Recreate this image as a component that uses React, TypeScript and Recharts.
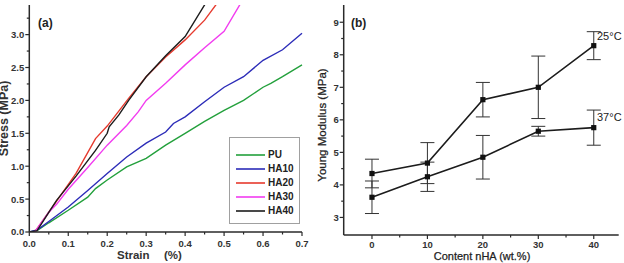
import React from "react";
import {
  LineChart,
  Line,
  XAxis,
  YAxis,
  Legend,
  ErrorBar,
} from "recharts";

// ---- panel (a): stress-strain curves ----
const puPts = [[0, 0], [0.02, 0.02], [0.05, 0.14], [0.1, 0.33], [0.15, 0.53], [0.17, 0.66], [0.2, 0.79], [0.25, 0.99], [0.3, 1.12], [0.35, 1.32], [0.4, 1.5], [0.45, 1.68], [0.5, 1.85], [0.55, 2.0], [0.6, 2.2], [0.62, 2.26], [0.65, 2.36], [0.7, 2.54]];
const ha10Pts = [[0, 0], [0.02, 0.03], [0.05, 0.16], [0.1, 0.38], [0.15, 0.63], [0.2, 0.89], [0.25, 1.14], [0.3, 1.35], [0.35, 1.52], [0.37, 1.65], [0.4, 1.75], [0.45, 1.98], [0.5, 2.2], [0.55, 2.36], [0.6, 2.61], [0.65, 2.77], [0.7, 3.02]];
const ha20Pts = [[0, 0], [0.015, 0.01], [0.05, 0.3], [0.07, 0.47], [0.12, 0.89], [0.17, 1.42], [0.2, 1.61], [0.255, 2.03], [0.3, 2.36], [0.35, 2.66], [0.4, 2.92], [0.45, 3.22], [0.485, 3.5]];
const ha30Pts = [[0, 0], [0.015, 0.01], [0.05, 0.3], [0.07, 0.42], [0.1, 0.65], [0.15, 0.98], [0.2, 1.32], [0.25, 1.62], [0.28, 1.83], [0.3, 2.0], [0.35, 2.26], [0.4, 2.54], [0.45, 2.8], [0.5, 3.05], [0.545, 3.5]];
const ha40Pts = [[0, 0], [0.02, 0.02], [0.05, 0.3], [0.07, 0.48], [0.12, 0.85], [0.17, 1.24], [0.2, 1.5], [0.205, 1.6], [0.23, 1.78], [0.255, 2.0], [0.3, 2.36], [0.35, 2.68], [0.4, 2.97], [0.455, 3.5]];

const strainSeries = [
  { name: "PU", color: "#23a03c", pts: puPts },
  { name: "HA10", color: "#2c2cb8", pts: ha10Pts },
  { name: "HA20", color: "#e63a2e", pts: ha20Pts },
  { name: "HA30", color: "#f23cf0", pts: ha30Pts },
  { name: "HA40", color: "#1c1c1c", pts: ha40Pts },
];

const strainMajor = [0, 0.1, 0.2, 0.3, 0.4, 0.5, 0.6, 0.7];
const strainTicks = [0, 0.05, 0.1, 0.15, 0.2, 0.25, 0.3, 0.35, 0.4, 0.45, 0.5, 0.55, 0.6, 0.65, 0.7];
const stressMajor = [0, 0.5, 1, 1.5, 2, 2.5, 3];
const stressTicks = [0, 0.25, 0.5, 0.75, 1, 1.25, 1.5, 1.75, 2, 2.25, 2.5, 2.75, 3, 3.25];

// ---- panel (b): Young modulus vs nHA content ----
const contentNHA = [0, 10, 20, 30, 40];
const modulus25 = [4.35, 4.67, 6.62, 7.0, 8.28];
const err25 = [0.44, 0.63, 0.53, 0.96, 0.43];
const modulus37 = [3.62, 4.25, 4.85, 5.65, 5.76];
const err37 = [0.5, 0.45, 0.67, 0.15, 0.54];

const contentMajor = [0, 10, 20, 30, 40];
const contentTicks = [0, 5, 10, 15, 20, 25, 30, 35, 40];
const modMajor = [3, 4, 5, 6, 7, 8, 9];
const modTicks = [3, 3.5, 4, 4.5, 5, 5.5, 6, 6.5, 7, 7.5, 8, 8.5, 9];

const modulusRows = contentNHA.map((c, i) => ({
  c,
  m25: modulus25[i],
  e25: err25[i],
  m37: modulus37[i],
  e37: err37[i],
}));

const FONT = "'Liberation Sans', Arial, sans-serif";
const AXIS = "#2a2a2a";

const isMajor = (v: number, majors: number[]) => majors.some((m) => Math.abs(m - v) < 1e-6);

function XTick(props: any) {
  const { x, y, payload, majors, digits, fs, gap = 15 } = props;
  const major = isMajor(payload.value, majors);
  return (
    <g>
      <line x1={x} x2={x} y1={y} y2={y + (major ? 4 : 2.5)} stroke={AXIS} strokeWidth={1.2} />
      {major && (
        <text x={x} y={y + gap} textAnchor="middle" fontSize={fs} fontWeight="bold" fontFamily={FONT} fill="#333">
          {payload.value.toFixed(digits)}
        </text>
      )}
    </g>
  );
}

function YTick(props: any) {
  const { x, y, payload, majors, digits, fs } = props;
  const major = isMajor(payload.value, majors);
  return (
    <g>
      <line x1={x} x2={x - (major ? 4 : 2.5)} y1={y} y2={y} stroke={AXIS} strokeWidth={1.2} />
      {major && (
        <text x={x - 5} y={y + 3.4} textAnchor="end" fontSize={fs} fontWeight="bold" fontFamily={FONT} fill="#333">
          {payload.value.toFixed(digits)}
        </text>
      )}
    </g>
  );
}

function Square(props: any) {
  const { cx, cy, index } = props;
  return <rect key={`sq-${index}`} x={cx - 2.6} y={cy - 2.6} width={5.2} height={5.2} fill="#111" />;
}

function StrainLegend() {
  return (
    <div
      style={{
        width: 71,
        height: 87,
        boxSizing: "border-box",
        border: "1px solid #a0a0a0",
        background: "#fff",
        paddingTop: 10,
        fontFamily: FONT,
      }}
    >
      {strainSeries.map((s) => (
        <div key={s.name} style={{ display: "flex", alignItems: "center", height: 14 }}>
          <svg width={38} height={6} style={{ display: "block" }}>
            <line x1={6} x2={35} y1={3} y2={3} stroke={s.color} strokeWidth={1.6} />
          </svg>
          <span style={{ fontSize: 10, fontWeight: "bold", color: "#222", lineHeight: "14px" }}>{s.name}</span>
        </div>
      ))}
    </div>
  );
}

export default function App() {
  return (
    <div style={{ position: "absolute", left: 0, top: 0, width: 624, height: 263, overflow: "hidden", background: "#fff" }}>
      <div style={{ position: "absolute", left: 0, top: 0 }}>
        <LineChart width={312} height={263} margin={{ top: 5, right: 10, left: 0, bottom: 0 }}>
          <XAxis
            type="number"
            dataKey="x"
            domain={[0, 0.7]}
            ticks={strainTicks}
            interval={0}
            height={31}
            tickSize={0}
            tickMargin={0}
            tickLine={false}
            axisLine={{ stroke: AXIS, strokeWidth: 1.5 }}
            tick={<XTick majors={strainMajor} digits={1} fs={9.5} />}
          />
          <XAxis xAxisId="top" orientation="top" type="number" domain={[0, 0.7]} height={0} tick={false} tickLine={false} axisLine={{ stroke: AXIS, strokeWidth: 1.5 }} />
          <YAxis
            type="number"
            domain={[0, 3.45]}
            allowDataOverflow
            ticks={stressTicks}
            interval={0}
            width={29.3}
            tickSize={0}
            tickMargin={0}
            tickLine={false}
            axisLine={{ stroke: AXIS, strokeWidth: 1.5 }}
            tick={<YTick majors={stressMajor} digits={1} fs={9.5} />}
          />
          <YAxis yAxisId="right" orientation="right" type="number" domain={[0, 3.45]} width={0} tick={false} tickLine={false} axisLine={{ stroke: AXIS, strokeWidth: 1.5 }} />
          {strainSeries.map((s) => (
            <Line
              key={s.name}
              name={s.name}
              data={s.pts.map(([x, y]) => ({ x, y }))}
              dataKey="y"
              type="linear"
              stroke={s.color}
              strokeWidth={1.4}
              dot={false}
              isAnimationActive={false}
            />
          ))}
          <Legend
            layout="horizontal"
            verticalAlign="middle"
            align="center"
            content={() => <StrainLegend />}
            wrapperStyle={{ left: 229, top: 137, width: 71, height: 87 }}
          />
        </LineChart>
      </div>

      <div style={{ position: "absolute", left: 312, top: 0 }}>
        <LineChart width={312} height={263} data={modulusRows} margin={{ top: 5, right: 5.3, left: 0, bottom: 0 }}>
          <XAxis
            type="number"
            dataKey="c"
            domain={[-5.1, 44.5]}
            ticks={contentTicks}
            interval={0}
            height={28}
            tickSize={0}
            tickMargin={0}
            tickLine={false}
            axisLine={{ stroke: AXIS, strokeWidth: 1.5 }}
            tick={<XTick majors={contentMajor} digits={0} fs={9.5} gap={13} />}
          />
          <XAxis xAxisId="top" orientation="top" type="number" domain={[-5.1, 44.5]} height={0} tick={false} tickLine={false} axisLine={{ stroke: AXIS, strokeWidth: 1.5 }} />
          <YAxis
            type="number"
            domain={[2.46, 9.53]}
            allowDataOverflow
            ticks={modTicks}
            interval={0}
            width={31.7}
            tickSize={0}
            tickMargin={0}
            tickLine={false}
            axisLine={{ stroke: AXIS, strokeWidth: 1.5 }}
            tick={<YTick majors={modMajor} digits={0} fs={9.5} />}
          />
          <YAxis yAxisId="right" orientation="right" type="number" domain={[2.46, 9.53]} width={0} tick={false} tickLine={false} axisLine={{ stroke: AXIS, strokeWidth: 1.5 }} />
          <Line dataKey="m25" type="linear" stroke="#1c1c1c" strokeWidth={1.6} dot={<Square />} isAnimationActive={false}>
            <ErrorBar dataKey="e25" direction="y" width={7} stroke="#333" strokeWidth={1} />
          </Line>
          <Line dataKey="m37" type="linear" stroke="#1c1c1c" strokeWidth={1.6} dot={<Square />} isAnimationActive={false}>
            <ErrorBar dataKey="e37" direction="y" width={7} stroke="#333" strokeWidth={1} />
          </Line>
        </LineChart>
      </div>

      <svg width={624} height={263} style={{ position: "absolute", left: 0, top: 0, pointerEvents: "none" }} fontFamily={FONT}>
        <text x={38} y={27} fontSize={12} fontWeight="bold" fill="#222">(a)</text>
        <text x={351} y={27} fontSize={12} fontWeight="bold" fill="#222">(b)</text>
        <text x={117} y={259} fontSize={11.5} fontWeight="bold" fill="#333">
          Strain
          <tspan x={164}>(%)</tspan>
        </text>
        <text transform="translate(3.5,118.5) rotate(-90)" textAnchor="middle" fontSize={12.5} fontWeight="bold" fill="#333" dominantBaseline="central">
          Stress (MPa)
        </text>
        <text x={482} y={259.5} textAnchor="middle" fontSize={11} fill="#222" stroke="#222" strokeWidth={0.25}>
          Content nHA (wt.%)
        </text>
        <text transform="translate(326,125) rotate(-90)" textAnchor="middle" fontSize={11.5} fill="#222" stroke="#222" strokeWidth={0.25}>
          Young Modulus (MPa)
        </text>
        <text x={597} y={40} fontSize={11} fill="#222">25°C</text>
        <text x={597} y={121} fontSize={11} fill="#222">37°C</text>
      </svg>
    </div>
  );
}
